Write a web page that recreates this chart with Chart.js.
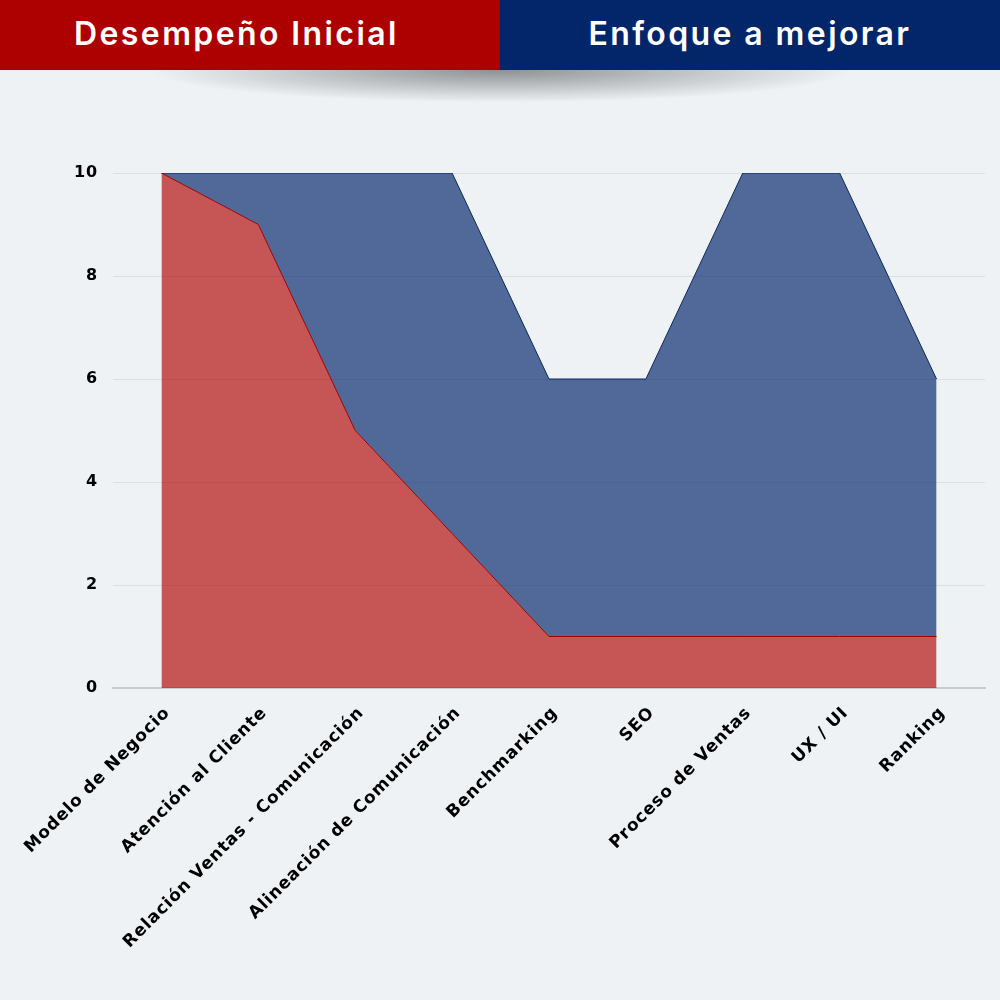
<!DOCTYPE html>
<html>
<head>
<meta charset="utf-8">
<script src="https://cdn.jsdelivr.net/npm/chart.js@4.4.1/dist/chart.umd.min.js"></script>
<style>
  body { margin: 0; background: #eef2f5; font-family: "Inter", "Noto Sans", sans-serif; }
  .wrap { position: relative; width: 1000px; height: 1000px; overflow: hidden; background: #eef2f5; }
  .shadow { position: absolute; top: 48px; left: 150px; width: 700px; height: 64px; z-index: 1;
            background: radial-gradient(ellipse 50% 50% at 50% 35%, rgba(0,0,0,0.4), rgba(0,0,0,0) 100%); }
  .header { position: absolute; top: 0; left: 0; width: 1000px; height: 70px; display: flex; z-index: 2; }
  .header div { width: 500px; height: 70px; line-height: 68px; color: #fff; font-size: 32px; font-weight: 600; letter-spacing: 2.4px; }
  .h1 { background: #ad0000; text-align: left; padding-left: 74px; box-sizing: border-box; }
  .h2 { background: #03266a; text-align: center; }
  canvas { position: absolute; top: 0; left: 0; z-index: 0; }
</style>
</head>
<body>
<div class="wrap">
  <div class="shadow"></div>
  <div class="header">
    <div class="h1">Desempeño Inicial</div>
    <div class="h2">Enfoque a mejorar</div>
  </div>
  <canvas id="areaChart" width="1000" height="1000"></canvas>
</div>
<script>
// Categorías y valores
const categories = ['Modelo de Negocio', 'Atención al Cliente', 'Relación Ventas - Comunicación',
    'Alineación de Comunicación', 'Benchmarking', 'SEO', 'Proceso de Ventas', 'UX / UI', 'Ranking'];
const desempenoInicial = [10, 9, 5, 3, 1, 1, 1, 1, 1];
const enfoqueMejorar = [0, 1, 5, 7, 5, 5, 9, 9, 5];   // apilado sobre desempeño inicial
const yTicks = [0, 2, 4, 6, 8, 10];

// the reference font is wider than anything installed, so space letters a bit
const spacing = {
    id: 'spacing',
    beforeUpdate: (chart) => { chart.ctx.letterSpacing = '0.9px'; },
    beforeDraw: (chart) => { chart.ctx.letterSpacing = '0.9px'; }
};

const ctx = document.getElementById('areaChart').getContext('2d');
new Chart(ctx, {
    type: 'line',
    data: {
        labels: categories,
        datasets: [{
            label: 'Desempeño Inicial',
            data: desempenoInicial,
            borderColor: '#a30000',
            borderWidth: 1,
            backgroundColor: 'rgba(176, 0, 0, 0.65)',
            fill: 'origin',
            pointRadius: 0,
            tension: 0
        }, {
            label: 'Enfoque a mejorar',
            data: enfoqueMejorar,
            borderColor: '#0a2a60',
            borderWidth: 1,
            backgroundColor: 'rgba(3, 38, 106, 0.67)',
            fill: '-1',
            pointRadius: 0,
            tension: 0
        }]
    },
    plugins: [spacing],
    options: {
        responsive: false,
        animation: false,
        layout: { padding: { top: 173, left: 20, right: 15, bottom: 0 } },
        plugins: { legend: { display: false }, tooltip: { enabled: false } },
        scales: {
            x: {
                offset: true,
                grid: { display: false },
                border: { color: '#c8ccd1', width: 2 },
                ticks: { color: '#000', font: { family: '"DejaVu Sans", sans-serif', size: 17, weight: 'bold' },
                         maxRotation: 45, minRotation: 45, padding: 7, labelOffset: 6 },
                afterFit: (scale) => { scale.height = 312; }
            },
            y: {
                stacked: true,
                min: 0,
                max: 10,
                afterBuildTicks: (scale) => { scale.ticks = yTicks.map(v => ({ value: v })); },
                grid: { color: 'rgba(0,0,0,0.08)', drawTicks: false },
                border: { display: false },
                ticks: { color: '#000', font: { family: '"DejaVu Sans", sans-serif', size: 16, weight: 'bold' }, padding: 15 },
                afterFit: (scale) => { scale.width = 93; }
            }
        }
    }
});
</script>
</body>
</html>
